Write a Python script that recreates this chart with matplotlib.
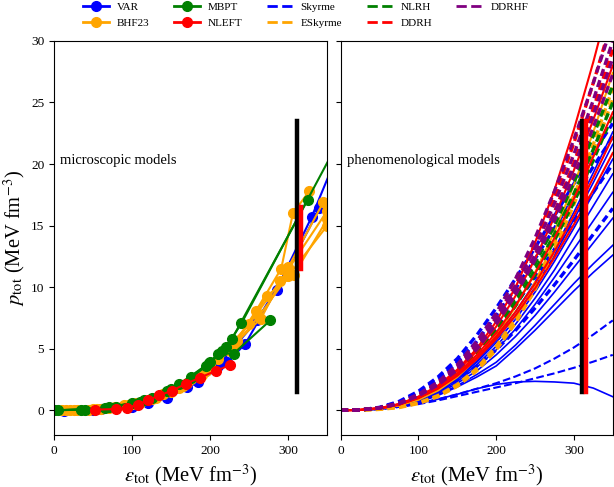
import numpy as np
import matplotlib
matplotlib.use('Agg')
import matplotlib.pyplot as plt
from matplotlib.lines import Line2D

plt.rcParams['font.family'] = ['Liberation Serif', 'DejaVu Serif']
plt.rcParams['mathtext.fontset'] = 'stix'

# ---------------- microscopic models (left panel) ----------------
var_e1 = [13, 50, 100, 145, 185, 222, 245, 285, 330, 360]
var_p1 = [-0.05, 0.05, 0.3, 1.0, 2.3, 3.9, 5.4, 9.8, 15.7, 20.3]
var_e2 = [0, 60, 120, 170, 210, 260, 300, 340]
var_p2 = [0.0, 0.1, 0.6, 1.9, 3.6, 7.3, 11.5, 16.4]

bhf_e1 = [20, 45, 78, 110, 140, 170, 200, 230, 259, 291, 306, 327]
bhf_p1 = [0.0, 0.05, 0.3, 0.6, 1.3, 2.2, 3.6, 5.3, 8.1, 11.5, 16.0, 17.8]
bhf_e2 = [25, 60, 95, 130, 165, 200, 235, 265, 300, 345]
bhf_p2 = [0.0, 0.1, 0.45, 1.0, 2.0, 3.5, 5.6, 7.45, 11.6, 16.9]
bhf_e3 = [10, 50, 90, 125, 160, 195, 230, 273, 307, 350]
bhf_p3 = [0.0, 0.08, 0.4, 0.9, 1.8, 3.2, 5.2, 9.3, 11.0, 15.5]
bhf_e4 = [30, 70, 105, 140, 175, 210, 250, 290, 350]
bhf_p4 = [0.0, 0.2, 0.55, 1.3, 2.5, 4.2, 7.0, 10.5, 16.2]
bhf_e5 = [15, 55, 100, 150, 190, 225, 262, 300, 350]
bhf_p5 = [0.0, 0.1, 0.5, 1.5, 2.9, 4.8, 7.6, 10.9, 15.0]

mbpt_e1 = [0, 35, 70, 100, 125, 150, 175, 200, 220, 240, 360]
mbpt_p1 = [0.0, 0.05, 0.25, 0.55, 1.0, 1.7, 2.7, 3.9, 5.1, 7.05, 21.3]
mbpt_e2 = [0, 40, 80, 115, 145, 175, 195, 210, 230, 277]
mbpt_p2 = [0.0, 0.05, 0.3, 0.8, 1.6, 2.6, 3.6, 4.6, 4.6, 7.3]
mbpt_e3 = [5, 65, 110, 160, 198, 215, 228, 325]
mbpt_p3 = [0.0, 0.2, 0.7, 2.1, 3.8, 4.8, 5.8, 17.1]

nleft_e = [53, 79, 94, 107, 121, 135, 151, 169, 187, 207, 225]
nleft_p = [0.05, 0.1, 0.2, 0.45, 0.85, 1.2, 1.6, 2.15, 2.65, 3.2, 3.65]

# ---------------- phenomenological models (right panel) ----------------
eps_grid = [0, 25, 50, 75, 100, 125, 150, 175, 200, 225, 250, 275, 300, 325, 350]

skyrme_solid = [
    [0, 0.02, 0.10, 0.30, 0.65, 1.20, 1.90, 2.70, 3.60, 5.00, 6.50, 8.10, 9.70, 11.2, 12.6],
    [0, 0.02, 0.10, 0.30, 0.70, 1.25, 2.00, 2.90, 3.90, 5.30, 6.90, 8.60, 10.3, 11.9, 13.4],
    [0, 0.02, 0.11, 0.33, 0.75, 1.35, 2.20, 3.20, 4.50, 6.00, 7.70, 9.60, 11.6, 13.6, 15.6],
    [0, 0.02, 0.11, 0.35, 0.80, 1.45, 2.35, 3.50, 4.90, 6.60, 8.60, 10.8, 13.1, 15.4, 17.7],
    [0, 0.02, 0.12, 0.37, 0.85, 1.55, 2.50, 3.70, 5.20, 7.00, 9.10, 11.4, 14.0, 16.6, 19.2],
    [0, 0.02, 0.12, 0.38, 0.88, 1.60, 2.60, 3.90, 5.50, 7.40, 9.60, 12.1, 14.8, 17.6, 20.4],
    [0, 0.02, 0.12, 0.39, 0.90, 1.65, 2.70, 4.00, 5.70, 7.70, 10.0, 12.6, 15.5, 18.5, 21.6],
    [0, 0.02, 0.13, 0.40, 0.92, 1.70, 2.80, 4.20, 5.90, 8.00, 10.4, 13.1, 16.1, 19.3, 22.6],
    [0, 0.02, 0.10, 0.28, 0.55, 0.90, 1.30, 1.75, 2.10, 2.30, 2.35, 2.30, 2.20, 1.80, 1.10],
]
skyrme_dashed = [
    [0, 0.03, 0.24, 0.72, 1.55, 2.70, 4.20, 6.10, 8.30, 10.7, 13.2, 15.8, 18.4, 20.9, 23.3],
    [0, 0.03, 0.22, 0.66, 1.42, 2.50, 3.90, 5.60, 7.70, 9.90, 12.3, 14.8, 17.3, 19.8, 22.2],
    [0, 0.03, 0.18, 0.55, 1.20, 2.10, 3.30, 4.80, 6.60, 8.60, 10.8, 13.1, 15.4, 17.7, 20.0],
    [0, 0.02, 0.14, 0.42, 0.90, 1.60, 2.50, 3.60, 4.90, 6.50, 8.30, 10.2, 12.2, 14.3, 16.4],
    [0, 0.02, 0.10, 0.28, 0.55, 0.90, 1.30, 1.75, 2.20, 2.75, 3.40, 4.20, 5.10, 6.15, 7.30],
    [0, 0.02, 0.10, 0.27, 0.50, 0.80, 1.15, 1.50, 1.85, 2.20, 2.60, 3.00, 3.45, 3.95, 4.50],
]
eskyrme_dashed = [
    [0, 0.01, 0.08, 0.25, 0.60, 1.20, 2.10, 3.40, 5.20, 7.50, 10.3, 13.6, 17.4, 21.6, 26.2],
    [0, 0.01, 0.07, 0.22, 0.55, 1.10, 1.95, 3.20, 4.90, 7.10, 9.80, 13.0, 16.7, 20.8, 25.3],
]
eskyrme_solid = [
    [0, 0.02, 0.12, 0.38, 0.85, 1.60, 2.70, 4.20, 6.10, 8.40, 11.2, 14.5, 18.3, 22.6, 27.4],
]
nlrh_dashed = [
    [0, 0.03, 0.19, 0.55, 1.18, 2.05, 3.30, 4.90, 6.90, 9.20, 11.9, 15.0, 18.5, 22.3, 26.4],
    [0, 0.03, 0.18, 0.53, 1.12, 1.95, 3.15, 4.70, 6.60, 8.80, 11.4, 14.3, 17.6, 21.2, 25.0],
    [0, 0.03, 0.18, 0.52, 1.10, 1.90, 3.05, 4.55, 6.40, 8.50, 11.0, 13.8, 16.9, 20.3, 24.0],
]
ddrh_solid = [
    [0, 0.03, 0.17, 0.50, 1.10, 2.00, 3.30, 5.00, 7.20, 10.0, 13.6, 17.9, 22.8, 28.3, 34.3],
    [0, 0.03, 0.17, 0.50, 1.10, 1.95, 3.20, 4.80, 6.80, 9.30, 12.3, 15.7, 19.5, 23.6, 28.0],
    [0, 0.03, 0.16, 0.48, 1.05, 1.85, 3.00, 4.50, 6.30, 8.50, 11.1, 14.0, 17.2, 20.6, 24.2],
    [0, 0.03, 0.15, 0.46, 1.00, 1.80, 2.90, 4.30, 6.00, 8.00, 10.3, 12.9, 15.8, 18.9, 22.2],
    [0, 0.03, 0.15, 0.45, 0.98, 1.75, 2.80, 4.15, 5.80, 7.70, 9.90, 12.4, 15.1, 17.9, 20.9],
]
ddrh_dashed = [
    [0, 0.03, 0.19, 0.55, 1.20, 2.15, 3.50, 5.30, 7.50, 10.2, 13.5, 17.3, 21.7, 26.6, 31.9],
    [0, 0.03, 0.18, 0.53, 1.15, 2.05, 3.35, 5.05, 7.10, 9.60, 12.6, 16.1, 20.1, 24.5, 29.3],
]
ddrhf_dashed = [
    [0, 0.03, 0.20, 0.60, 1.30, 2.30, 3.70, 5.60, 7.90, 10.7, 14.0, 17.8, 22.0, 26.6, 31.5],
    [0, 0.03, 0.20, 0.58, 1.25, 2.20, 3.55, 5.35, 7.50, 10.1, 13.2, 16.8, 20.8, 25.2, 30.0],
    [0, 0.03, 0.19, 0.56, 1.20, 2.10, 3.40, 5.10, 7.20, 9.70, 12.6, 16.0, 19.8, 24.0, 28.6],
    [0, 0.03, 0.19, 0.55, 1.18, 2.05, 3.30, 4.95, 7.00, 9.40, 12.2, 15.4, 19.0, 23.0, 27.3],
]

# constraint bars
black_eps, black_lo, black_hi = 311, 1.5, 23.5
red_eps_l, red_lo_l, red_hi_l = 316, 11.5, 16.5
red_eps_r, red_lo_r, red_hi_r = 316, 1.5, 23.5

fig = plt.figure(figsize=(6.14, 4.87), dpi=100)
ax1 = fig.add_axes([0.088, 0.107, 0.445, 0.809])
ax2 = fig.add_axes([0.555, 0.107, 0.443, 0.809], sharey=ax1)

mk = dict(marker='o', ms=7, lw=1.5)
ax1.plot(var_e1, var_p1, color='blue', **mk)
ax1.plot(var_e2, var_p2, color='blue', **mk)
for e, p in [(bhf_e1, bhf_p1), (bhf_e2, bhf_p2), (bhf_e3, bhf_p3),
             (bhf_e4, bhf_p4), (bhf_e5, bhf_p5)]:
    ax1.plot(e, p, color='orange', **mk)
for e, p in [(mbpt_e1, mbpt_p1), (mbpt_e2, mbpt_p2), (mbpt_e3, mbpt_p3)]:
    ax1.plot(e, p, color='green', **mk)
ax1.plot(nleft_e, nleft_p, color='red', **mk)

ax1.plot([black_eps, black_eps], [black_lo, black_hi], color='black', lw=3.2, zorder=5)
ax1.plot([red_eps_l, red_eps_l], [red_lo_l, red_hi_l], color='red', lw=3.2, zorder=6)
ax1.text(8, 20.3, 'microscopic models', fontsize=10.5, va='center')

# thick dashed lines for the phenomenological families
dsh = dict(lw=2.4, dashes=(2.2, 1.3))
for p in skyrme_solid:
    ax2.plot(eps_grid, p, color='blue', lw=1.2)
for p in skyrme_dashed[4:]:
    ax2.plot(eps_grid, p, color='blue', ls='--', lw=1.5)
for p in skyrme_dashed[:4]:
    ax2.plot(eps_grid, p, color='blue', **dsh)
for p in eskyrme_dashed:
    ax2.plot(eps_grid, p, color='orange', **dsh)
for p in eskyrme_solid:
    ax2.plot(eps_grid, p, color='orange', lw=1.5)
for p in nlrh_dashed:
    ax2.plot(eps_grid, p, color='green', **dsh)
for p in ddrh_dashed:
    ax2.plot(eps_grid, p, color='red', **dsh)
for p in ddrh_solid:
    ax2.plot(eps_grid, p, color='red', lw=1.5)
for p in ddrhf_dashed:
    ax2.plot(eps_grid, p, color='purple', **dsh)

ax2.plot([black_eps, black_eps], [black_lo, black_hi], color='black', lw=3.2, zorder=5)
ax2.plot([red_eps_r, red_eps_r], [red_lo_r, red_hi_r], color='red', lw=3.2, zorder=6)
ax2.text(8, 20.3, 'phenomenological models', fontsize=10.5, va='center')

for ax in (ax1, ax2):
    ax.set_xlim(0, 350)
    ax.set_xticks([0, 100, 200, 300])
    ax.tick_params(labelsize=9.6)
    ax.set_xlabel(r'$\varepsilon_{\rm tot}$ (MeV fm$^{-3}$)', fontsize=14.8)
ax1.set_ylim(-2, 30)
ax1.set_yticks([0, 5, 10, 15, 20, 25, 30])
ax1.set_ylabel(r'$p_{\rm tot}$ (MeV fm$^{-3}$)', fontsize=14.8, labelpad=3)
ax2.tick_params(labelleft=False)

handles = [
    Line2D([], [], color='blue', marker='o', ms=7, lw=2),
    Line2D([], [], color='orange', marker='o', ms=7, lw=2),
    Line2D([], [], color='green', marker='o', ms=7, lw=2),
    Line2D([], [], color='red', marker='o', ms=7, lw=2),
    Line2D([], [], color='blue', ls='--', lw=2),
    Line2D([], [], color='orange', ls='--', lw=2),
    Line2D([], [], color='green', ls='--', lw=2),
    Line2D([], [], color='red', ls='--', lw=2),
    Line2D([], [], color='purple', ls='--', lw=2),
]
labels = ['VAR', 'BHF23', 'MBPT', 'NLEFT', 'Skyrme', 'ESkyrme', 'NLRH', 'DDRH', 'DDRHF']
fig.legend(handles, labels, ncol=5, loc='upper left', bbox_to_anchor=(0.133, 0.998),
           frameon=False, fontsize=8, handlelength=2.35, handletextpad=0.7,
           columnspacing=2.2, labelspacing=0.55, borderaxespad=0, borderpad=0.1)

fig.savefig('out.png', dpi=100)
